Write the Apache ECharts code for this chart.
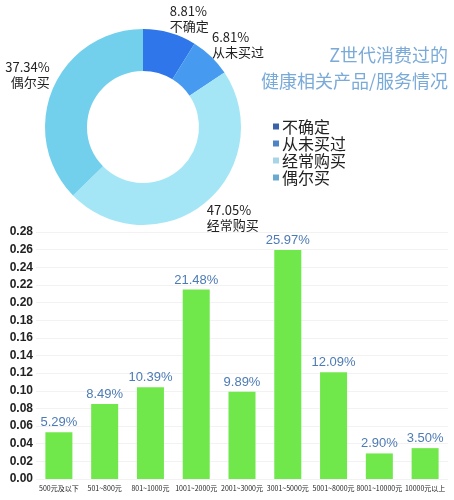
<!DOCTYPE html>
<html>
<head>
<meta charset="utf-8">
<script src="https://cdn.jsdelivr.net/npm/echarts@6/dist/echarts.min.js"></script>
<style>html,body{margin:0;padding:0;background:#fff;}#c{width:454px;height:500px;}</style>
</head>
<body>
<div id="c"></div>
<script>
var pieNames = ['不确定', '从未买过', '经常购买', '偶尔买'];
var pieValues = [8.81, 6.81, 47.05, 37.34];
var pieColors = ['#2f76ea', '#469bf0', '#a4e6f5', '#72d0ec'];
var legendColors = ['#3b62a8', '#4e83c4', '#a8d4e8', '#6aaad0'];

var barCategories = ['500元及以下', '501~800元', '801~1000元', '1001~2000元', '2001~3000元', '3001~5000元', '5001~8000元', '8001~10000元', '10000元以上'];
var barValues = [0.0529, 0.0849, 0.1039, 0.2148, 0.0989, 0.2597, 0.1209, 0.0290, 0.0350];
var yTicks = { min: 0, max: 0.28, interval: 0.02 };

var titleText = 'Z世代消费过的\n健康相关产品/服务情况';

var labelShift = [[-5, -14], [-4, -12], [-3, 15], [2, -14]];

var chart = echarts.init(document.getElementById('c'));
chart.setOption({
  backgroundColor: '#ffffff',
  animation: false,
  graphic: [{
    type: 'text',
    x: 448,
    y: 42,
    style: {
      text: titleText,
      fill: '#7aaad8',
      font: '18px "Noto Sans CJK SC", sans-serif',
      lineHeight: 26,
      align: 'right',
      verticalAlign: 'top'
    }
  }],
  legend: {
    orient: 'vertical',
    left: 268,
    top: 113,
    itemWidth: 6,
    itemHeight: 6,
    itemGap: 0,
    icon: 'rect',
    textStyle: { fontSize: 16, color: '#222', fontFamily: 'Noto Sans CJK SC', lineHeight: 17, padding: [0, 0, 0, -2] },
    data: pieNames.map(function (n, i) { return { name: n, itemStyle: { color: legendColors[i] } }; })
  },
  grid: { left: 36, right: 6, top: 232, bottom: 21 },
  xAxis: {
    type: 'category',
    data: barCategories,
    axisLine: { show: false },
    axisTick: { show: false },
    axisLabel: { interval: 0, fontSize: 7, color: '#222', margin: 6, fontFamily: '"Liberation Sans Narrow", "Noto Sans CJK SC"' }
  },
  yAxis: {
    type: 'value',
    min: yTicks.min,
    max: yTicks.max,
    interval: yTicks.interval,
    axisLine: { show: false },
    axisTick: { show: false },
    splitLine: { lineStyle: { color: '#f2f2f2' } },
    axisLabel: {
      fontSize: 12, color: '#222', margin: 3, fontWeight: 'bold', fontFamily: 'Liberation Sans',
      formatter: function (v) { return v.toFixed(2); }
    }
  },
  series: [{
    type: 'pie',
    center: [143, 127],
    radius: [56, 98],
    startAngle: 90,
    clockwise: true,
    avoidLabelOverlap: false,
    emphasis: { disabled: true },
    label: {
      show: true,
      position: 'outside',
      fontSize: 13,
      lineHeight: 15,
      color: '#222',
      fontFamily: 'Noto Sans CJK SC',
      formatter: function (p) { return p.value.toFixed(2) + '%\n' + p.name; }
    },
    labelLine: { show: false, length: 0, length2: 0 },
    labelLayout: function (p) {
      var s = labelShift[p.dataIndex];
      return { dx: s[0], dy: s[1] };
    },
    data: pieNames.map(function (n, i) { return { name: n, value: pieValues[i], itemStyle: { color: pieColors[i] } }; })
  }, {
    type: 'bar',
    data: barValues,
    barWidth: '59%',
    itemStyle: { color: '#70e84c' },
    label: {
      show: true,
      position: 'top',
      distance: 3,
      fontSize: 13,
      color: '#4d7bb5',
      formatter: function (p) { return (p.value * 100).toFixed(2) + '%'; }
    }
  }]
});
</script>
</body>
</html>
